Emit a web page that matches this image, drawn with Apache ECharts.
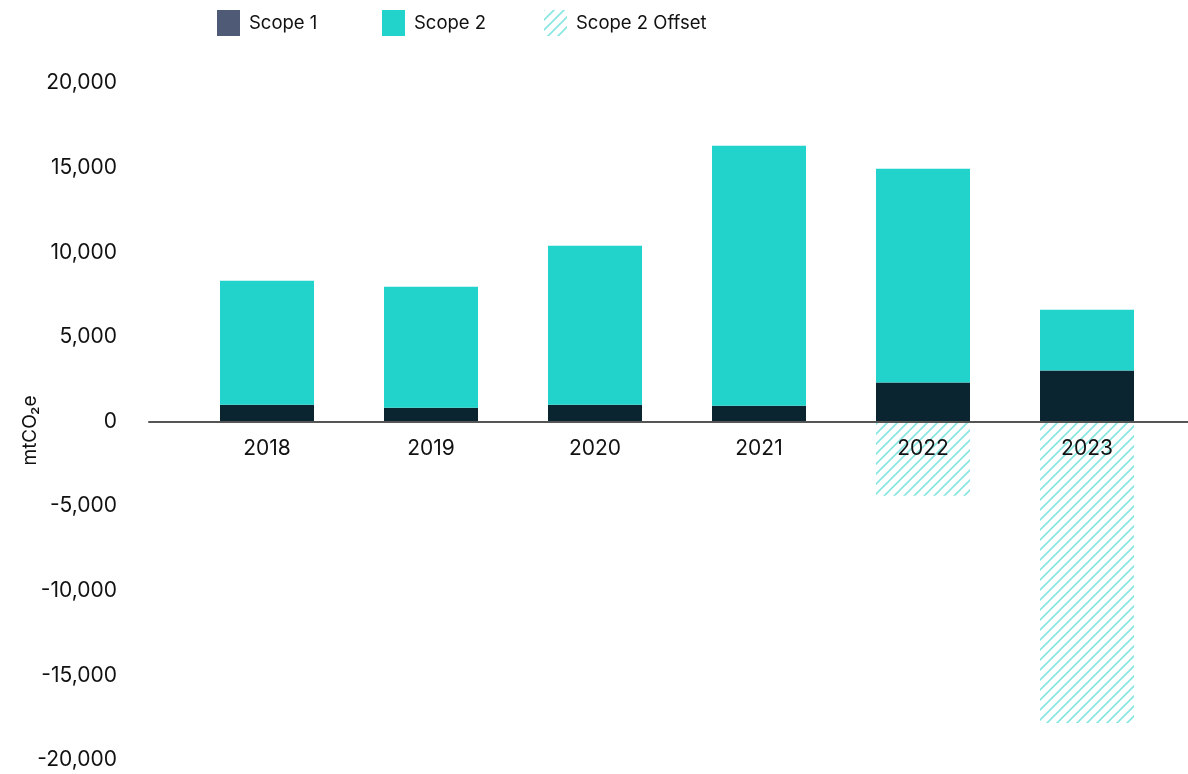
<!DOCTYPE html>
<html>
<head>
<meta charset="utf-8">
<title>Scope 1 and Scope 2 emissions</title>
<script src="https://cdn.jsdelivr.net/npm/echarts@6/dist/echarts.min.js"></script>
<style>
  html, body { margin: 0; padding: 0; background: #ffffff; }
  #chart { width: 1188px; height: 774px; }
</style>
</head>
<body>
<div id="chart"></div>
<script>
// Reporting years
const years = ['2018', '2019', '2020', '2021', '2022', '2023'];
// Emissions in mtCO2e
const scope1 = [990, 810, 990, 930, 2300, 3010];
const scope2 = [7330, 7150, 9390, 15360, 12630, 3590];
// Renewable energy offsets against Scope 2 (negative)
const scope2Offset = [null, null, null, null, -4390, -17810];
// Value axis ticks
const yTicks = [-20000, -15000, -10000, -5000, 0, 5000, 10000, 15000, 20000];

const FONT = 'Inter, "Liberation Sans", Arial, sans-serif';
const TEXT = '#111111';

// Diagonal hatch tile used for the offset bars and their legend key
function hatchPattern(color) {
  const s = 10;
  const c = document.createElement('canvas');
  c.width = s; c.height = s;
  const g = c.getContext('2d');
  g.strokeStyle = color;
  g.lineWidth = 1.6;
  g.beginPath();
  g.moveTo(-1, s + 1); g.lineTo(s + 1, -1);
  g.moveTo(-1, 1); g.lineTo(1, -1);
  g.moveTo(s - 1, s + 1); g.lineTo(s + 1, s - 1);
  g.stroke();
  return { image: c, repeat: 'repeat' };
}
const hatch = hatchPattern('#86e6e1');

const chart = echarts.init(document.getElementById('chart'), null, { renderer: 'canvas' });

const legendBase = {
  top: 5,
  icon: 'rect',
  itemWidth: 23,
  itemHeight: 26,
  selectedMode: false,
  textStyle: { fontFamily: FONT, fontSize: 18.5, color: TEXT, padding: [0, 0, 0, 4] }
};

chart.setOption({
  animation: false,
  backgroundColor: '#ffffff',
  legend: [
    Object.assign({}, legendBase, { left: 212, data: [{ name: 'Scope 1', itemStyle: { color: '#4f5b76' } }] }),
    Object.assign({}, legendBase, { left: 377, data: ['Scope 2'] }),
    Object.assign({}, legendBase, { left: 539, data: ['Scope 2 Offset'] })
  ],
  grid: [
    { left: 185, right: 19, top: 83, bottom: 14, outerBoundsMode: 'none' },
    { left: 149, right: 0, top: 83, bottom: 14, outerBoundsMode: 'none' }
  ],
  xAxis: [
    {
      type: 'category',
      gridIndex: 0,
      data: years,
      z: 10,
      axisLine: { show: false },
      axisTick: { show: false },
      axisLabel: { fontFamily: FONT, fontSize: 21, color: TEXT, margin: 17 }
    },
    {
      // full-width zero baseline
      type: 'value',
      gridIndex: 1,
      min: 0,
      max: 1,
      z: 12,
      axisLine: { show: true, onZero: true, lineStyle: { color: '#555555', width: 2 } },
      axisTick: { show: false },
      axisLabel: { show: false },
      splitLine: { show: false }
    }
  ],
  yAxis: [
    {
      type: 'value',
      gridIndex: 0,
      min: yTicks[0],
      max: yTicks[yTicks.length - 1],
      interval: 5000,
      name: 'mtCO₂e',
      nameLocation: 'middle',
      nameRotate: 90,
      nameGap: 145,
      nameMoveOverlap: false,
      nameTextStyle: { fontFamily: FONT, fontSize: 19, color: TEXT, padding: [0, 18, 0, 0] },
      axisLine: { show: false },
      axisTick: { show: false },
      splitLine: { show: false },
      axisLabel: {
        fontFamily: FONT, fontSize: 21, color: TEXT, margin: 68,
        formatter: v => v.toLocaleString('en-US')
      }
    },
    {
      type: 'value',
      gridIndex: 1,
      min: yTicks[0],
      max: yTicks[yTicks.length - 1],
      show: false
    }
  ],
  series: [
    {
      name: 'Scope 1', type: 'bar', stack: 'total', barWidth: 94,
      xAxisIndex: 0, yAxisIndex: 0,
      itemStyle: { color: '#0b2530' },
      data: scope1
    },
    {
      name: 'Scope 2', type: 'bar', stack: 'total', barWidth: 94,
      xAxisIndex: 0, yAxisIndex: 0,
      itemStyle: { color: '#22d3cb' },
      data: scope2
    },
    {
      name: 'Scope 2 Offset', type: 'bar', stack: 'total', barWidth: 94,
      xAxisIndex: 0, yAxisIndex: 0,
      itemStyle: { color: hatch },
      data: scope2Offset
    }
  ]
});

// Move the year labels up so they hang from the zero line
const zeroY = chart.convertToPixel({ yAxisIndex: 0 }, 0);
const baseY = chart.convertToPixel({ yAxisIndex: 0 }, yTicks[0]);
chart.setOption({ xAxis: [{ offset: zeroY - baseY }, {}] });
</script>
</body>
</html>
